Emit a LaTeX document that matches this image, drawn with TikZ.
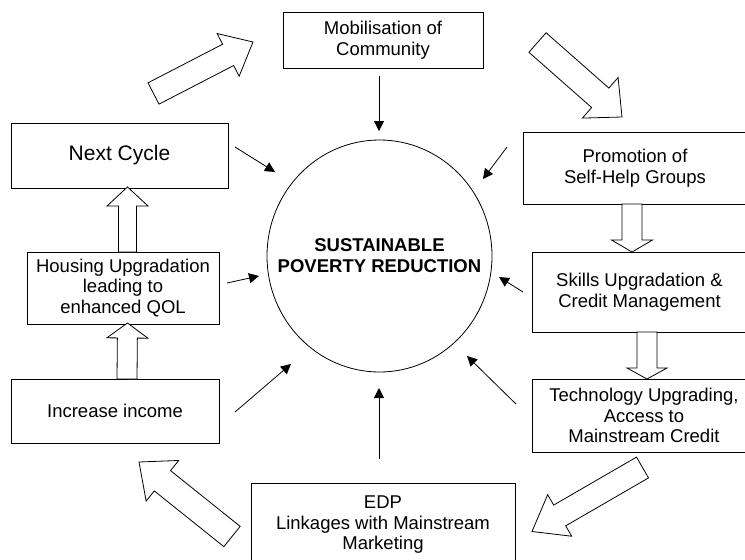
\documentclass[tikz,border=0pt]{standalone}
\usepackage{fontspec}
\setmainfont{Liberation Sans}
\usetikzlibrary{calc,arrows.meta,shapes.geometric}
\newcommand\fatarrow[5]{%
  \coordinate (fj) at ($(#2)!#5!(#1)$);
  \draw[fat] ($(#1)!#3/2!90:(#2)$) -- ($(fj)!#3/2!90:(#2)$) -- ($(fj)!#4/2!90:(#2)$) -- (#2)
    -- ($(fj)!#4/2!-90:(#2)$) -- ($(fj)!#3/2!-90:(#2)$) -- ($(#1)!#3/2!-90:(#2)$) -- cycle;}
\begin{document}
\begin{tikzpicture}[x=1pt,y=-1pt,
  box/.style={draw=black, line width=0.8pt, align=center, inner sep=0pt,
    font=\fontsize{18.5}{20.5}\selectfont},
  fat/.style={draw=black, fill=white, line width=0.8pt, line join=miter},
  thin/.style={draw=black, line width=0.8pt, -{Triangle[length=10pt,width=10pt]}}]
\clip (0,0) rectangle (745,560);
\fill[white] (0,0) rectangle (745,560);

% boxes
\node[box, minimum width=200pt, minimum height=56pt] (mob) at (383,40) {Mobilisation of\\Community};
\node[box, minimum width=224pt, minimum height=72pt] (prom) at (635,168) {Promotion of\\Self-Help Groups};
\node[box, minimum width=215pt, minimum height=80pt] (skill) at (639.5,292) {Skills Upgradation \&\\Credit Management};
\node[box, minimum width=224pt, minimum height=73pt] (tech) at (644,415.5) {Technology Upgrading,\\Access to\\Mainstream Credit};
\node[box, minimum width=264pt, minimum height=84pt] (edp) at (383,525) {EDP\\Linkages with Mainstream\\Marketing};
\node[box, minimum width=208pt, minimum height=64pt] (inc) at (115,411) {Increase income};
\node[box, minimum width=192pt, minimum height=72pt] (hous) at (123,288) {Housing Upgradation\\leading to\\enhanced QOL};
\node[box, minimum width=217pt, minimum height=65pt, font=\fontsize{21}{23}\selectfont] (next) at (119.5,155.5) {Next Cycle};

% centre
\node[ellipse, draw=black, line width=0.8pt, minimum width=225pt, minimum height=232pt, inner sep=0pt] (core) at (379.5,256) {};
\node[align=center, inner sep=0pt, font=\bfseries\fontsize{18.5}{21}\selectfont] (coretext) at (core.center) {SUSTAINABLE\\POVERTY REDUCTION};

% thin arrows
\coordinate (t1s) at (379,76);  \coordinate (t1e) at (379,131);
\coordinate (t2s) at (235,147); \coordinate (t2e) at (275,172);
\coordinate (t3s) at (507,147); \coordinate (t3e) at (483,179);
\coordinate (t4s) at (227,283); \coordinate (t4e) at (259,276);
\coordinate (t5s) at (523,292); \coordinate (t5e) at (499,277);
\coordinate (t6s) at (235,412); \coordinate (t6e) at (291,364);
\coordinate (t7s) at (379,459); \coordinate (t7e) at (379,388);
\coordinate (t8s) at (516,404); \coordinate (t8e) at (467,356);
\foreach \i in {1,...,8} {\draw[thin] (t\i s) -- (t\i e);}

% block arrows
\coordinate (b1s) at (153.5,93.5); \coordinate (b1e) at (253,42);
\coordinate (b2s) at (537.5,42.5); \coordinate (b2e) at (622,117);
\coordinate (b3s) at (632,204);    \coordinate (b3e) at (632,252);
\coordinate (b4s) at (647,332);    \coordinate (b4e) at (647,379);
\coordinate (b5s) at (642.5,467.5);\coordinate (b5e) at (532,531.5);
\coordinate (b6s) at (232,536.5);  \coordinate (b6e) at (139,462);
\coordinate (b7s) at (127,379);    \coordinate (b7e) at (127.5,323);
\coordinate (b8s) at (127.5,252);  \coordinate (b8e) at (127.5,187);
\fatarrow{b1s}{b1e}{24pt}{48pt}{28pt}
\fatarrow{b2s}{b2e}{26pt}{54pt}{29pt}
\fatarrow{b3s}{b3e}{20pt}{41pt}{12pt}
\fatarrow{b4s}{b4e}{20pt}{40pt}{11pt}
\fatarrow{b5s}{b5e}{24pt}{48pt}{32pt}
\fatarrow{b6s}{b6e}{26pt}{52pt}{30pt}
\fatarrow{b7s}{b7e}{20pt}{41pt}{15pt}
\fatarrow{b8s}{b8e}{18pt}{41pt}{19pt}
\end{tikzpicture}
\end{document}
